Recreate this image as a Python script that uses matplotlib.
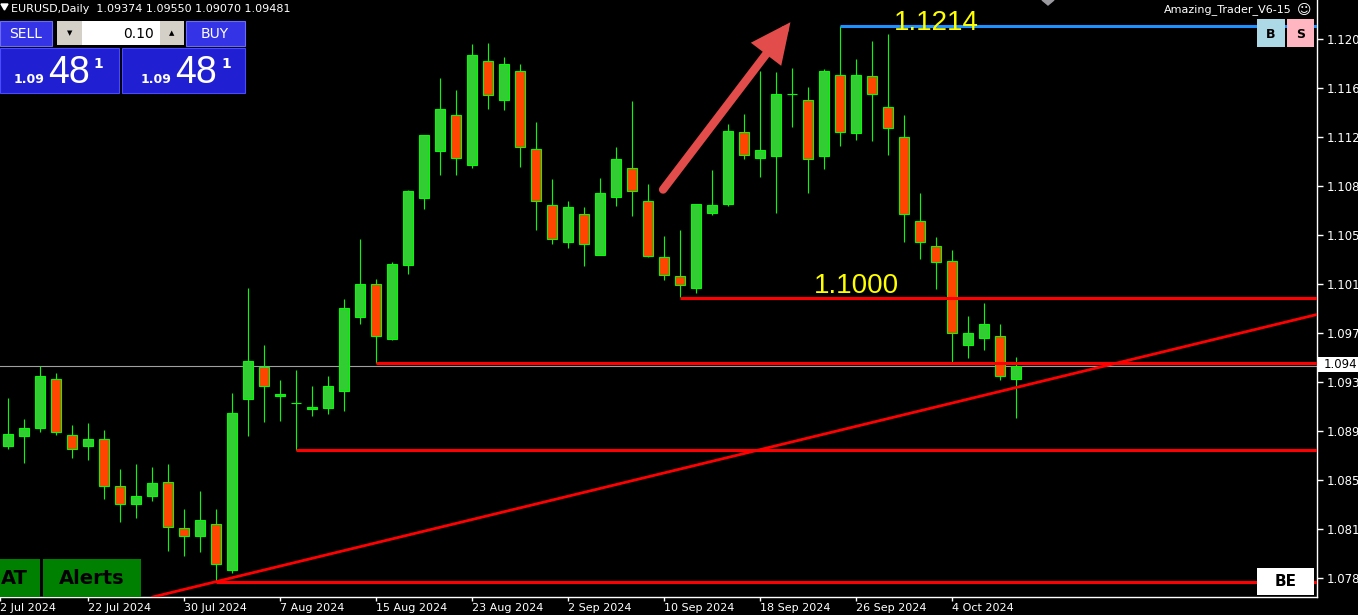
import matplotlib
matplotlib.use("Agg")
from matplotlib import pyplot as plt
from matplotlib.patches import Rectangle, Polygon, FancyArrowPatch

plt.rcParams['font.family'] = ['DejaVu Sans']

# EURUSD daily candles, 15 Jul 2024 .. 10 Oct 2024 (index 0..63)
opens = [1.0885, 1.0893, 1.0899, 1.0938, 1.0894, 1.0885, 1.0891, 1.0854, 1.0840, 1.0846,
         1.0857, 1.0821, 1.0815, 1.0824, 1.0788, 1.0922, 1.0947, 1.0924, 1.0919, 1.0914,
         1.0915, 1.0928, 1.0986, 1.1012, 1.0969, 1.1027, 1.1079, 1.1116, 1.1144, 1.1105,
         1.1187, 1.1156, 1.1179, 1.1118, 1.1074, 1.1045, 1.1067, 1.1035, 1.1080, 1.1103,
         1.1077, 1.1033, 1.1018, 1.1009, 1.1068, 1.1075, 1.1131, 1.1111, 1.1112, 1.1161,
         1.1156, 1.1112, 1.1176, 1.1130, 1.1175, 1.1151, 1.1127, 1.1061, 1.1042, 1.1030,
         1.0964, 1.0970, 1.0971, 1.09374]
highs = [1.0923, 1.0906, 1.0948, 1.0942, 1.0902, 1.0903, 1.0898, 1.0867, 1.0871, 1.0869,
         1.0871, 1.0836, 1.0850, 1.0836, 1.0927, 1.1009, 1.0964, 1.0937, 1.0945, 1.0932,
         1.0940, 1.1000, 1.1047, 1.1016, 1.1029, 1.1086, 1.1129, 1.1173, 1.1164, 1.1200,
         1.1201, 1.1190, 1.1184, 1.1139, 1.1094, 1.1077, 1.1072, 1.1095, 1.1119, 1.1155,
         1.1090, 1.1050, 1.1054, 1.1075, 1.1101, 1.1137, 1.1145, 1.1179, 1.1178, 1.1181,
         1.1166, 1.1180, 1.1214, 1.1188, 1.1202, 1.1208, 1.1144, 1.1083, 1.1049, 1.1039,
         1.0987, 1.0997, 1.0981, 1.09550]
lows = [1.0883, 1.0872, 1.0896, 1.0894, 1.0876, 1.0874, 1.0844, 1.0826, 1.0829, 1.0842,
        1.0803, 1.0799, 1.0802, 1.0779, 1.0786, 1.0893, 1.0904, 1.0905, 1.0882, 1.0909,
        1.0910, 1.0913, 1.0981, 1.0950, 1.0968, 1.1020, 1.1071, 1.1097, 1.1097, 1.1103,
        1.1149, 1.1148, 1.1104, 1.1054, 1.1043, 1.1040, 1.1026, 1.1035, 1.1073, 1.1065,
        1.1033, 1.1015, 1.1002, 1.1005, 1.1066, 1.1073, 1.1110, 1.1096, 1.1068, 1.1135,
        1.1083, 1.1102, 1.1120, 1.1125, 1.1124, 1.1113, 1.1045, 1.1032, 1.1008, 1.0951,
        1.0954, 1.0960, 1.0937, 1.09070]
closes = [1.0895, 1.0899, 1.0940, 1.0896, 1.0883, 1.0891, 1.0854, 1.0840, 1.0846, 1.0856,
          1.0822, 1.0815, 1.0827, 1.0793, 1.0911, 1.0952, 1.0932, 1.0926, 1.0919, 1.0916,
          1.0932, 1.0993, 1.1012, 1.0971, 1.1028, 1.1085, 1.1129, 1.1149, 1.1111, 1.1191,
          1.1160, 1.1184, 1.1119, 1.1077, 1.1047, 1.1072, 1.1043, 1.1083, 1.1110, 1.1085,
          1.1034, 1.1019, 1.1011, 1.1075, 1.1074, 1.1132, 1.1113, 1.1117, 1.1161, 1.1161,
          1.1110, 1.1179, 1.1131, 1.1176, 1.1161, 1.1134, 1.1067, 1.1045, 1.1029, 1.0974,
          1.0974, 1.0981, 1.0940, 1.09481]
bid = 1.09481

date_pos = [-0.5, 5, 11, 17, 23, 29, 35, 41, 47, 53, 59]
date_labels = ["2 Jul 2024", "22 Jul 2024", "30 Jul 2024", "7 Aug 2024", "15 Aug 2024",
               "23 Aug 2024", "2 Sep 2024", "10 Sep 2024", "18 Sep 2024", "26 Sep 2024",
               "4 Oct 2024"]
price_ticks = [1.12038, 1.11654, 1.11269, 1.10886, 1.10502, 1.10118, 1.09735, 1.09350,
               1.08967, 1.08583, 1.08199, 1.07816]
price_labels = ["1.120", "1.116", "1.112", "1.108", "1.105", "1.101", "1.097", "1.093",
                "1.089", "1.085", "1.081", "1.078"]

# hand drawn objects: (price, first candle)
top_level = (1.1214, 52)
red_levels = [(1.1001, 42), (1.0950, 23), (1.0882, 18), (1.0779, 13)]
trend_pts = [(13, 1.0779), (63, 1.0931)]
arrow_from = (40.94, 1.1086)
arrow_to = (48.9, 1.1217)

fig = plt.figure(figsize=(13.58, 6.15), dpi=100, facecolor='black')
ax = fig.add_axes([0, 18 / 615, 1317 / 1358, 597 / 615], facecolor='black')
ax.set_xlim(-0.5, 81.81)
ax.set_ylim(1.07670, 1.12344)

# bid line
ax.axhline(bid, color='#a0a0a0', lw=0.8, zorder=1)

# candles
w = 0.64
for i in range(len(opens)):
    o, h, l, c = opens[i], highs[i], lows[i], closes[i]
    fc = '#32cd32' if c >= o else '#ff4500'
    ax.vlines(i, l, h, color='#00ff00', lw=0.8, zorder=3)
    ax.add_patch(Rectangle((i - w / 2, min(o, c)), w, abs(c - o), facecolor=fc,
                           edgecolor='#00ff00', lw=0.8, zorder=4))

# levels
ax.hlines(top_level[0], top_level[1], 90, color='#1e90ff', lw=2.2, zorder=5)
for p, start in red_levels:
    ax.hlines(p, start, 90, color='#ff0000', lw=2.2, zorder=5)
ax.axline(trend_pts[0], trend_pts[1], color='#ff0000', lw=2.0, zorder=5)

ax.text(55.38, 1.1211, "1.1214", color='#ffff00', fontsize=20,
        family='Liberation Sans', va='baseline', ha='left', zorder=6)
ax.text(50.38, 1.10053, "1.1000", color='#ffff00', fontsize=20,
        family='Liberation Sans', va='baseline', ha='left', zorder=6)

arr = FancyArrowPatch(arrow_from, arrow_to, arrowstyle="-|>,head_length=0.95,head_width=0.45",
                      mutation_scale=20, color='#e24c4a', lw=6, capstyle='round',
                      joinstyle='miter', shrinkA=0, shrinkB=0, zorder=7)
ax.add_patch(arr)

# axes look
for s in ['top', 'left']:
    ax.spines[s].set_visible(False)
for s in ['right', 'bottom']:
    ax.spines[s].set_color('white')
    ax.spines[s].set_linewidth(1)
ax.yaxis.tick_right()
ax.set_yticks(price_ticks, price_labels)
ax.set_xticks(date_pos, date_labels)
for t in ax.get_xticklabels():
    t.set_ha('left')
ax.tick_params(axis='y', colors='white', length=4, width=1, labelsize=8.5, pad=3)
ax.tick_params(axis='x', colors='white', length=3, width=1, labelsize=8, pad=1)

# terminal widgets drawn in pixel space
ui = fig.add_axes([0, 0, 1, 1], zorder=5)
ui.set_xlim(0, 1358)
ui.set_ylim(615, 0)
ui.axis('off')
ui.patch.set_alpha(0)


def box(x0, y0, x1, y1, fc, ec=None, lw=0.0):
    ui.add_patch(Rectangle((x0, y0), x1 - x0, y1 - y0, facecolor=fc,
                           edgecolor=ec if ec else fc, linewidth=lw))


ui.add_patch(Polygon([(1, 4), (8, 4), (4.5, 10)], closed=True, color='white'))
ui.text(11, 9, "EURUSD,Daily  1.09374 1.09550 1.09070 1.09481", color='white',
        fontsize=8, va='center', ha='left')

# sell / buy panel
box(0, 21, 52, 46, '#3434e6', '#6a6aff', 0.8)
box(186, 21, 245, 46, '#3434e6', '#6a6aff', 0.8)
box(0, 48, 119, 93, '#2020d2', '#4a4aff', 0.8)
box(122, 48, 245, 93, '#2020d2', '#4a4aff', 0.8)
box(57, 21, 82, 45, '#d4d0c8')
box(82, 21, 160, 45, 'white')
box(160, 21, 184, 45, '#d4d0c8')
ui.text(26, 34, "SELL", color='white', fontsize=10, ha='center', va='center')
ui.text(215, 34, "BUY", color='white', fontsize=10, ha='center', va='center')
ui.text(154, 34, "0.10", color='black', fontsize=10, ha='right', va='center')
ui.text(69.5, 33, "\u25BC", color='black', fontsize=5, ha='center', va='center')
ui.text(172, 33, "\u25B2", color='black', fontsize=5, ha='center', va='center')
for x_small, x_big, x_sup in [(14, 48, 93), (141, 175, 221)]:
    ui.text(x_small, 83, "1.09", color='white', fontsize=9, fontweight='bold',
            ha='left', va='baseline')
    ui.text(x_big, 83, "48", color='white', fontsize=27, family='Liberation Sans',
            ha='left', va='baseline')
    ui.text(x_sup, 68, "1", color='white', fontsize=10, fontweight='bold',
            ha='left', va='baseline')

# top right
ui.text(1292, 10, "Amazing_Trader_V6-15", color='white', fontsize=8, ha='right', va='center')
ui.text(1304, 10, "\u263A", color='white', fontsize=10, ha='center', va='center')
box(1257, 19, 1285, 47, '#add8e6')
box(1287, 19, 1314, 47, '#ffb6c1')
ui.text(1271, 34, "B", color='black', fontsize=9, fontweight='bold', ha='center', va='center')
ui.text(1300.5, 34, "S", color='black', fontsize=9, fontweight='bold', ha='center', va='center')
ui.add_patch(Polygon([(1042, 0), (1054, 0), (1048, 5)], closed=True, color='#9a9aa0'))

# current price tag
box(1318, 357, 1358, 372, 'white')
ui.text(1324, 365, "1.094", color='black', fontsize=8.5, ha='left', va='center')

# bottom widgets
box(0, 559, 40, 597, '#008000')
box(43, 559, 141, 597, '#008000')
ui.text(1, 579, "AT", color='black', fontsize=14, fontweight='bold', ha='left', va='center')
ui.text(92, 579, "Alerts", color='black', fontsize=14, fontweight='bold', ha='center', va='center')
box(1257, 568, 1314, 595, 'white')
ui.text(1285.5, 582, "BE", color='black', fontsize=11, fontweight='bold', ha='center', va='center')

fig.savefig('out.png', dpi=100, facecolor='black')
